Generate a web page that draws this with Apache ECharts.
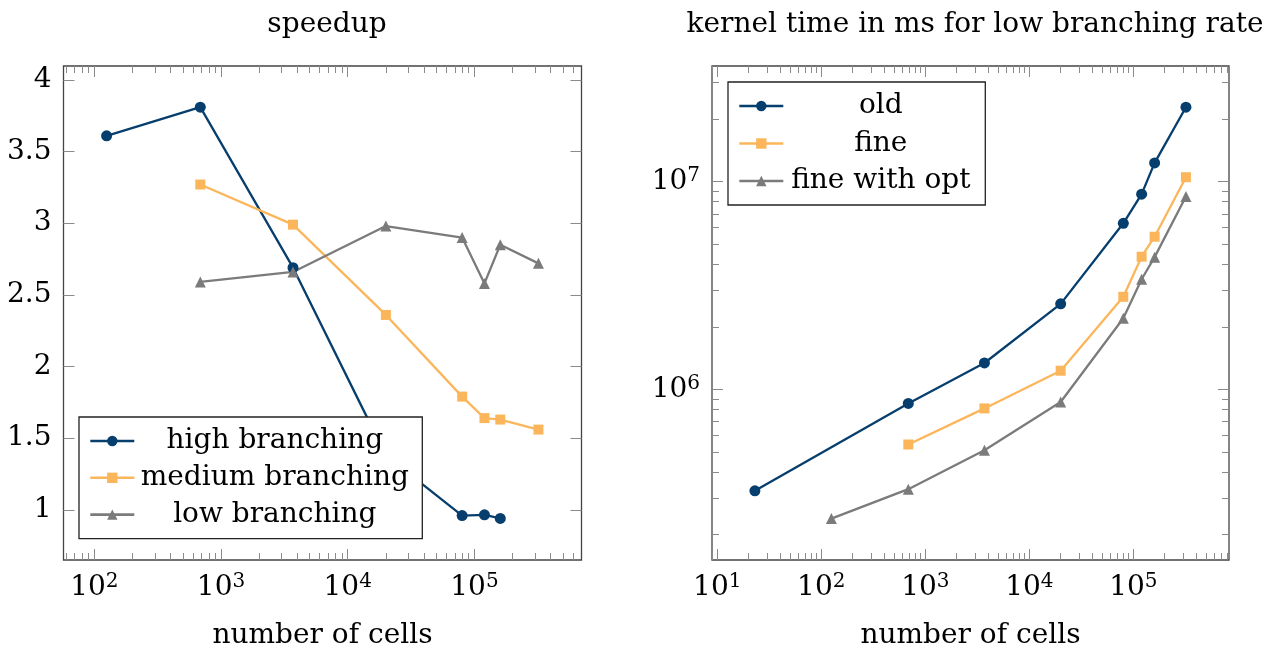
<!DOCTYPE html>
<html><head><meta charset="utf-8">
<script src="https://cdn.jsdelivr.net/npm/echarts@6/dist/echarts.min.js"></script>
<style>html,body{margin:0;padding:0;background:#fff}#c{width:1266px;height:650px}</style>
</head><body><div id="c"></div>
<script>
// ---- data: speedup (left) ----
const highCells = [125, 686, 3700, 20000, 80000, 120000, 160000];
const highSpeedup = [3.61, 3.81, 2.69, 1.38, 0.96, 0.965, 0.94];
const mediumCells = [686, 3700, 20000, 80000, 120000, 160000, 320000];
const mediumSpeedup = [3.27, 2.99, 2.36, 1.79, 1.64, 1.63, 1.56];
const lowCells = [686, 3700, 20000, 80000, 120000, 160000, 320000];
const lowSpeedup = [2.59, 2.66, 2.98, 2.90, 2.58, 2.85, 2.72];
// ---- data: kernel time (right) ----
const oldCells = [23, 686, 3700, 20000, 80000, 120000, 160000, 320000];
const oldTime = [3.25e5, 8.56e5, 1.34e6, 2.58e6, 6.3e6, 8.7e6, 1.23e7, 2.28e7];
const fineCells = [686, 3700, 20000, 80000, 120000, 160000, 320000];
const fineTime = [5.43e5, 8.1e5, 1.23e6, 2.79e6, 4.35e6, 5.43e6, 1.05e7];
const optCells = [125, 686, 3700, 20000, 80000, 120000, 160000, 320000];
const optTime = [2.39e5, 3.31e5, 5.1e5, 8.7e5, 2.2e6, 3.39e6, 4.33e6, 8.47e6];
// ---- ticks ----
const leftXMajor = [100, 1000, 10000, 100000];
const leftXMinor = [60,70,80,90,200,300,400,500,600,700,800,900,2000,3000,4000,5000,6000,7000,8000,9000,20000,30000,40000,50000,60000,70000,80000,90000,200000,300000,400000,500000,600000];
const leftYTicks = [1, 1.5, 2, 2.5, 3, 3.5, 4];
const rightXMajor = [10, 100, 1000, 10000, 100000];
const rightXMinor = [9,20,30,40,50,60,70,80,90,200,300,400,500,600,700,800,900,2000,3000,4000,5000,6000,7000,8000,9000,20000,30000,40000,50000,60000,70000,80000,90000,200000,300000,400000,500000,600000,700000,800000];
const rightYMajor = [1e6, 1e7];
const rightYMinor = [2e5,3e5,4e5,5e5,6e5,7e5,8e5,9e5,2e6,3e6,4e6,5e6,6e6,7e6,8e6,9e6,2e7,3e7];

const FONT = 'DejaVu Serif';
const FS = 28;
const BLUE = '#063e6d', ORANGE = '#fbb65b', GRAY = '#7b7b7b';
const TICK = '#8a8a8a';

const powRich = {
  b: {fontFamily: FONT, fontSize: FS, color: '#000', lineHeight: 32},
  s: {fontFamily: FONT, fontSize: 20, color: '#000', lineHeight: 32, verticalAlign: 'top', padding: [0, 0, 10, 0]}
};
function powLabel(v) { return '{b|10}{s|' + Math.round(Math.log10(v)) + '}'; }
function zip(xs, ys) { return xs.map((x, i) => [x, ys[i]]); }

function xAx(grid, type, min, max, pos, ticks, len, labels, extra) {
  return Object.assign({
    gridIndex: grid, type: type, min: min, max: max, position: pos,
    axisLine: {show: false}, splitLine: {show: false},
    axisTick: {show: true, inside: true, length: len, customValues: ticks, lineStyle: {color: TICK, width: 1}},
    axisLabel: labels ? {show: true, customValues: ticks, formatter: powLabel, rich: powRich, margin: 12} : {show: false}
  }, extra || {});
}
function yAx(grid, type, min, max, pos, ticks, len, labelFmt, extra) {
  return Object.assign({
    gridIndex: grid, type: type, min: min, max: max, position: pos,
    axisLine: {show: false}, splitLine: {show: false},
    axisTick: {show: true, inside: true, length: len, customValues: ticks, lineStyle: {color: TICK, width: 1}},
    axisLabel: labelFmt ? Object.assign({show: true, customValues: ticks, margin: 12}, labelFmt) : {show: false}
  }, extra || {});
}
const nameStyle = {fontFamily: FONT, fontSize: FS, color: '#000'};

const L = {min: 57.1, max: 7.0e5}, R = {min: 8.9, max: 8.3e5};
const LY = {min: 0.65, max: 4.097}, RY = {min: 1.51e5, max: 3.6e7};

const option = {
  animation: false,
  backgroundColor: '#fff',
  title: [
    {text: 'speedup', left: 322, top: 6, textAlign: 'center', textStyle: {fontFamily: FONT, fontSize: FS, fontWeight: 'normal', color: '#000'}},
    {text: 'kernel time in ms for low branching rate', left: 970, top: 6, textAlign: 'center', textStyle: {fontFamily: FONT, fontSize: FS, fontWeight: 'normal', color: '#000'}}
  ],
  grid: [
    {left: 63.5, top: 66, width: 518, height: 494, show: true, borderColor: '#444', borderWidth: 1.3, outerBoundsMode: 'none', containLabel: false},
    {left: 712, top: 66, width: 517, height: 494, show: true, borderColor: '#444', borderWidth: 1.3, outerBoundsMode: 'none', containLabel: false}
  ],
  xAxis: [
    xAx(0, 'log', L.min, L.max, 'bottom', leftXMajor, 11, true, {name: 'number of cells', nameLocation: 'middle', nameGap: 62, nameTextStyle: nameStyle}),
    xAx(0, 'log', L.min, L.max, 'bottom', leftXMinor, 7, false),
    xAx(0, 'log', L.min, L.max, 'top', leftXMajor, 11, false),
    xAx(0, 'log', L.min, L.max, 'top', leftXMinor, 7, false),
    xAx(1, 'log', R.min, R.max, 'bottom', rightXMajor, 11, true, {name: 'number of cells', nameLocation: 'middle', nameGap: 62, nameTextStyle: nameStyle}),
    xAx(1, 'log', R.min, R.max, 'bottom', rightXMinor, 7, false),
    xAx(1, 'log', R.min, R.max, 'top', rightXMajor, 11, false),
    xAx(1, 'log', R.min, R.max, 'top', rightXMinor, 7, false)
  ],
  yAxis: [
    yAx(0, 'value', LY.min, LY.max, 'left', leftYTicks, 11, {fontFamily: FONT, fontSize: FS, color: '#000', formatter: v => String(v)}),
    yAx(0, 'value', LY.min, LY.max, 'right', leftYTicks, 11, null),
    yAx(1, 'log', RY.min, RY.max, 'left', rightYMajor, 11, {formatter: powLabel, rich: powRich}),
    yAx(1, 'log', RY.min, RY.max, 'left', rightYMinor, 7, null),
    yAx(1, 'log', RY.min, RY.max, 'right', rightYMajor, 11, null),
    yAx(1, 'log', RY.min, RY.max, 'right', rightYMinor, 7, null)
  ],
  legend: [
    {
      data: ['high branching', 'medium branching', 'low branching'],
      orient: 'vertical', left: 79, top: 417, selectedMode: false,
      padding: [10, 12, 10, 10], itemGap: 8.8, itemWidth: 44, itemHeight: 13,
      lineStyle: {width: 2.6},
      borderColor: '#222', borderWidth: 1.3, backgroundColor: '#fff', borderRadius: 0,
      formatter: n => '{a|' + n + '}',
      textStyle: {rich: {a: {width: 271, align: 'center', fontFamily: FONT, fontSize: FS, lineHeight: 30, color: '#000'}}}
    },
    {
      data: ['old', 'fine', 'fine with opt'],
      orient: 'vertical', left: 728, top: 82, selectedMode: false,
      padding: [10, 12, 10, 10], itemGap: 9.5, itemWidth: 44, itemHeight: 13,
      lineStyle: {width: 2.6},
      borderColor: '#222', borderWidth: 1.3, backgroundColor: '#fff', borderRadius: 0,
      formatter: n => '{a|' + n + '}',
      textStyle: {rich: {a: {width: 185, align: 'center', fontFamily: FONT, fontSize: FS, lineHeight: 30, color: '#000'}}}
    }
  ],
  series: [
    {name: 'high branching', type: 'line', xAxisIndex: 0, yAxisIndex: 0, data: zip(highCells, highSpeedup), symbol: 'circle', symbolSize: 11, color: BLUE, lineStyle: {width: 2.3}},
    {name: 'medium branching', type: 'line', xAxisIndex: 0, yAxisIndex: 0, data: zip(mediumCells, mediumSpeedup), symbol: 'rect', symbolSize: 10, color: ORANGE, lineStyle: {width: 2.3}},
    {name: 'low branching', type: 'line', xAxisIndex: 0, yAxisIndex: 0, data: zip(lowCells, lowSpeedup), symbol: 'triangle', symbolSize: 11, color: GRAY, lineStyle: {width: 2.3}},
    {name: 'old', type: 'line', xAxisIndex: 4, yAxisIndex: 2, data: zip(oldCells, oldTime), symbol: 'circle', symbolSize: 11, color: BLUE, lineStyle: {width: 2.3}},
    {name: 'fine', type: 'line', xAxisIndex: 4, yAxisIndex: 2, data: zip(fineCells, fineTime), symbol: 'rect', symbolSize: 10, color: ORANGE, lineStyle: {width: 2.3}},
    {name: 'fine with opt', type: 'line', xAxisIndex: 4, yAxisIndex: 2, data: zip(optCells, optTime), symbol: 'triangle', symbolSize: 11, color: GRAY, lineStyle: {width: 2.3}}
  ]
};
const chart = echarts.init(document.getElementById('c'), null, {renderer: 'canvas'});
chart.setOption(option);
</script>
</body></html>
